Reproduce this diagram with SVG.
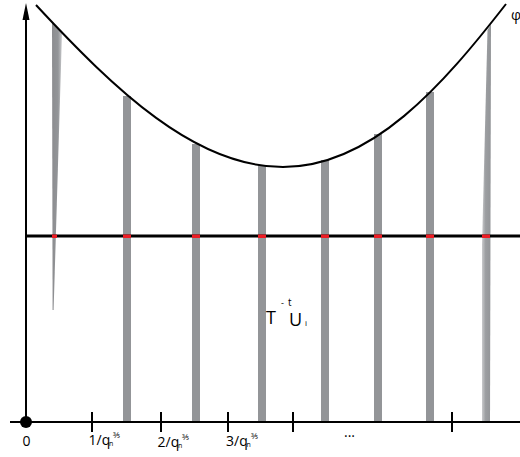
<svg xmlns="http://www.w3.org/2000/svg" width="520" height="457" viewBox="0 0 520 457">
<defs>
<linearGradient id="gL" x1="0" y1="0" x2="1" y2="0"><stop offset="0" stop-color="#8c8d90"/><stop offset="0.6" stop-color="#939598"/><stop offset="1" stop-color="#c9cacc"/></linearGradient>
<linearGradient id="gR" x1="0" y1="0" x2="1" y2="0"><stop offset="0" stop-color="#c9cacc"/><stop offset="0.4" stop-color="#9c9ea1"/><stop offset="1" stop-color="#939598"/></linearGradient>
</defs>
<style>
.bar{fill:#939598}
.ax{stroke:#000;stroke-width:2;fill:none}
.tick{stroke:#000;stroke-width:2}
.mark{fill:#ed1c24}
text{font-family:"Open Sans","Liberation Sans",sans-serif;fill:#000}
.lbl{font-size:14px}
.sm{font-size:7px}
.fr{font-size:8px}
</style>
<rect width="520" height="457" fill="#fff"/>
<g id="bars">
<polygon points="52,22 62,33 53.6,310 52.6,310" fill="url(#gL)"/>
<rect class="bar" x="123" y="96" width="8" height="326"/>
<rect class="bar" x="192" y="144" width="8" height="278"/>
<rect class="bar" x="258" y="165" width="8" height="257"/>
<rect class="bar" x="321" y="160" width="8" height="262"/>
<rect class="bar" x="374" y="134" width="8" height="288"/>
<rect class="bar" x="426" y="92" width="8" height="330"/>
<polygon points="487.5,30 491,24 490,422 482,422 482,245" fill="url(#gR)"/>
</g>
<g id="curve">
<path class="ax" stroke-width="2.4" d="M36,5 C115,90 195,167 283,167 C372,167 443,85 506,4"/>
<text x="511" y="20" class="lbl">φ</text>
</g>
<g id="line">
<line x1="26" y1="236" x2="520" y2="236" stroke="#000" stroke-width="3"/>
<rect class="mark" x="52" y="234.5" width="5" height="3.5"/>
<rect class="mark" x="123" y="234.5" width="8" height="3.5"/>
<rect class="mark" x="192" y="234.5" width="8" height="3.5"/>
<rect class="mark" x="258" y="234.5" width="8" height="3.5"/>
<rect class="mark" x="321" y="234.5" width="8" height="3.5"/>
<rect class="mark" x="374" y="234.5" width="8" height="3.5"/>
<rect class="mark" x="426" y="234.5" width="8" height="3.5"/>
<rect class="mark" x="482" y="234.5" width="8" height="3.5"/>
</g>
<g id="axes">
<line class="ax" x1="26" y1="422" x2="26" y2="18"/>
<polygon points="26,3 22.5,20 29.5,20" fill="#000"/>
<line class="ax" x1="10" y1="422" x2="520" y2="422"/>
<circle cx="26" cy="422" r="6" fill="#000"/>
<line class="tick" x1="92" y1="412" x2="92" y2="432"/>
<line class="tick" x1="161" y1="412" x2="161" y2="432"/>
<line class="tick" x1="228" y1="412" x2="228" y2="432"/>
<line class="tick" x1="293" y1="412" x2="293" y2="432"/>
<line class="tick" x1="452" y1="412" x2="452" y2="432"/>
</g>
<g id="labels">
<text x="22.5" y="446" class="lbl">0</text>
<text x="88.5" y="445" class="lbl">1/q</text><text x="109" y="446" class="sm">n</text><text x="113" y="438" class="fr">⅗</text>
<text x="157.5" y="447" class="lbl">2/q</text><text x="178" y="448" class="sm">n</text><text x="182" y="440" class="fr">⅗</text>
<text x="226" y="446" class="lbl">3/q</text><text x="246.5" y="447" class="sm">n</text><text x="250.5" y="439" class="fr">⅗</text>
<text x="344" y="437" class="lbl">...</text>
<text x="266" y="324" font-size="18px">T</text>
<text x="281" y="306" font-size="9px">-</text>
<text x="288" y="306" font-size="10px">t</text>
<text x="289" y="326" font-size="18px">U</text>
<text x="305" y="326" font-size="8px">i</text>
</g>
</svg>
